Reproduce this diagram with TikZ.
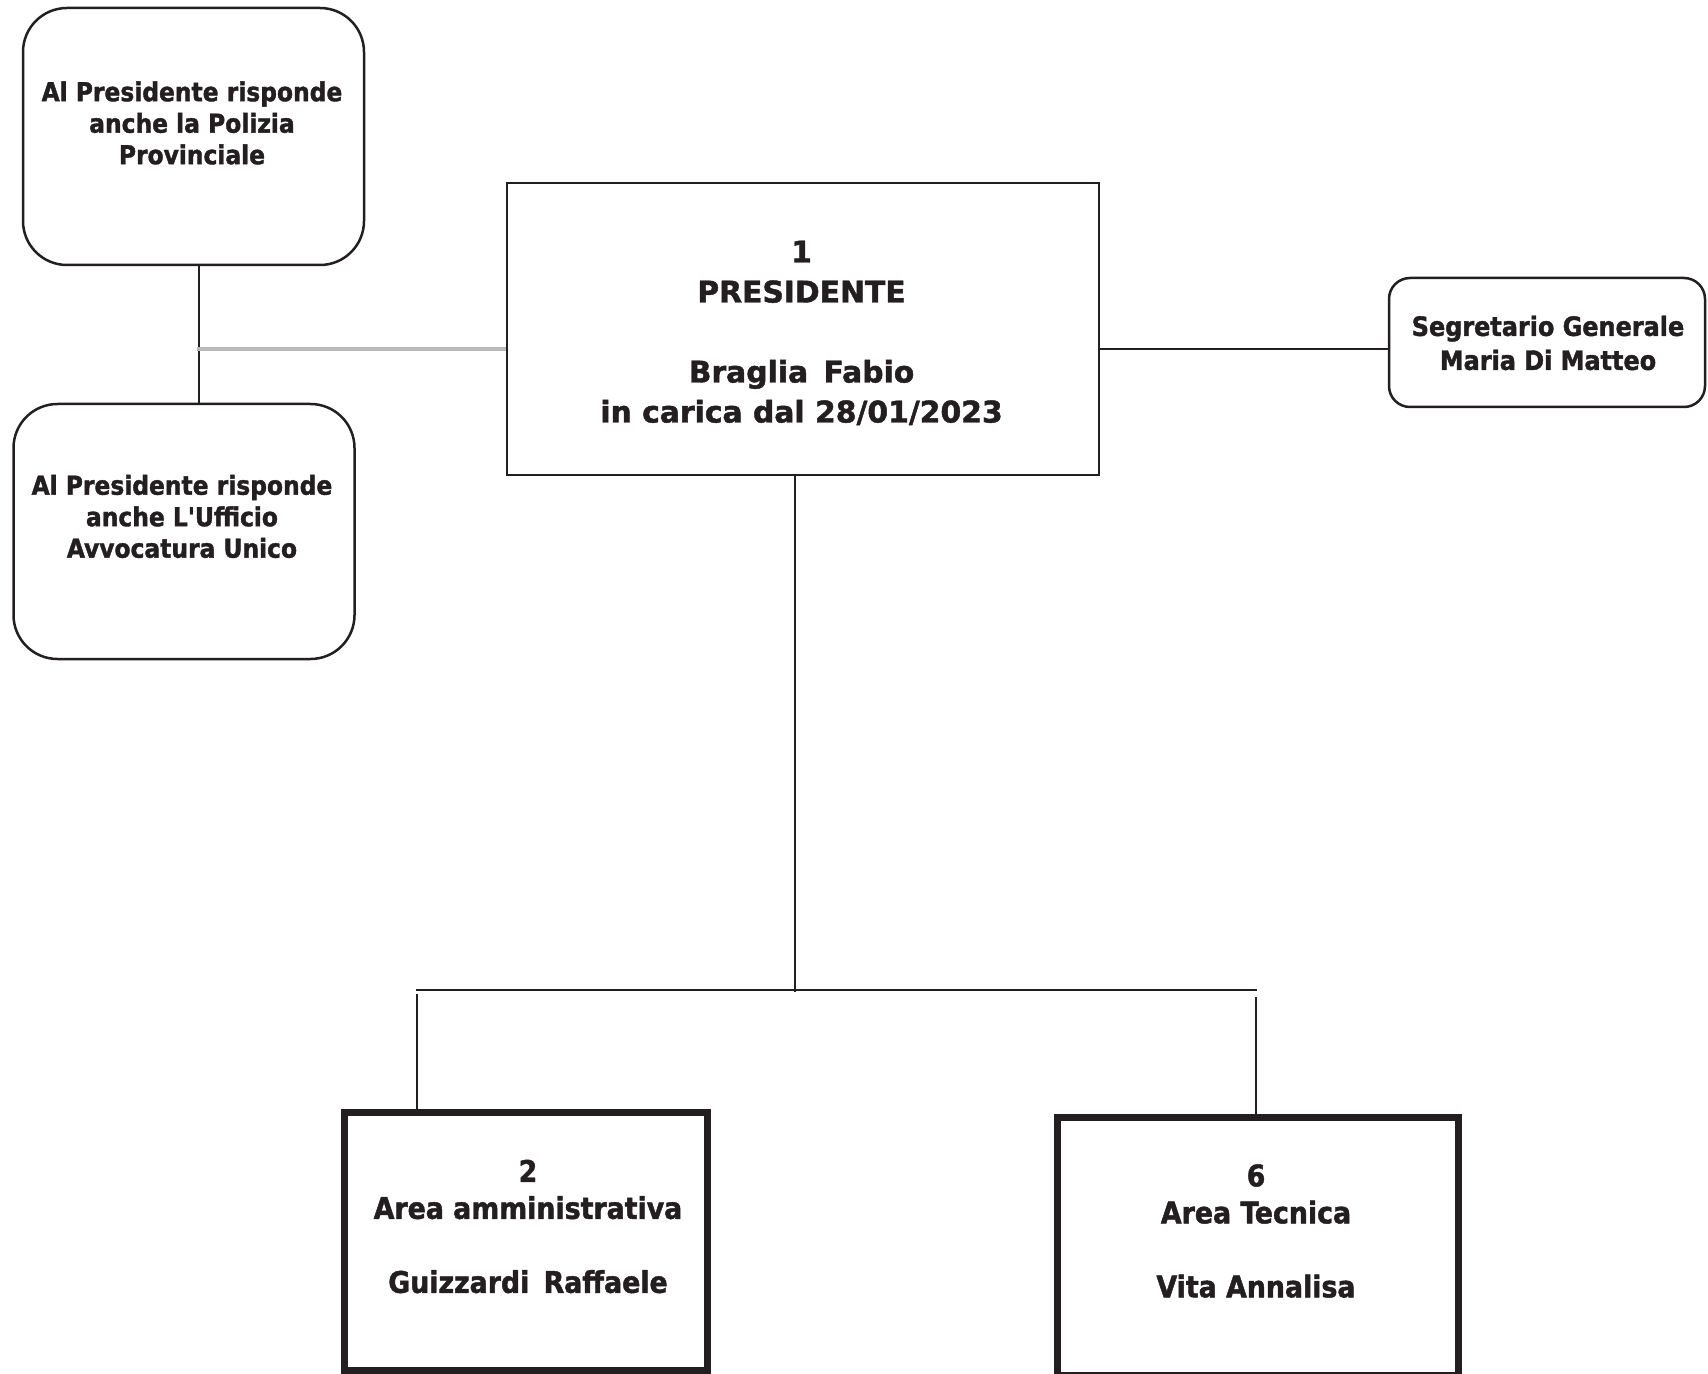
\documentclass[tikz,border=0pt]{standalone}
\usepackage{fontspec}
\setmainfont{DejaVu Sans}[BoldFeatures={FakeBold=1.5}]
\IfFontExistsTF{DejaVu Sans Condensed}
  {\newfontfamily\condfont{DejaVu Sans Condensed}[BoldFeatures={FakeBold=1.5}]}
  {\newfontfamily\condfont{DejaVu Sans}[FakeStretch=0.9, BoldFeatures={FakeBold=1.5}]}
\usepackage{tikz}
\usetikzlibrary{positioning}
\definecolor{ink}{RGB}{35,31,32}
\definecolor{rule}{RGB}{185,185,185}

\begin{document}
\begin{tikzpicture}[x=0.5pt, y=-0.5pt,
    box/.style={draw=ink, line width=1.25pt, inner sep=0pt}, % riquadri sottili
    roundbox/.style={box, rounded corners=22pt},
    areabox/.style={draw=ink, line width=3.5pt, inner sep=0pt},
    txt/.style={text=ink, align=center, inner sep=0pt},
    small/.style={txt, font=\condfont\bfseries\fontsize{13}{15.75}\selectfont},
    big/.style={txt, font=\condfont\bfseries\fontsize{14.9}{18.5}\selectfont},
    wire/.style={draw=ink, line width=1.25pt}
    ]
\useasboundingbox (0,0) rectangle (1708,1374);

% riquadri a sinistra
\node[roundbox, minimum width=170.5pt, minimum height=128.5pt] (polizia) at (193.5,136.5) {};
\node[small] (t-polizia) at (192,123) {Al Presidente risponde\\anche la Polizia\\Provinciale};
\node[roundbox, minimum width=170.5pt, minimum height=127.5pt] (avvocatura) at (184,531.5) {};
\node[small] (t-avvocatura) at (182,516.5) {Al Presidente risponde\\anche L'Ufficio\\Avvocatura Unico};

% presidente
\node[box, minimum width=296pt, minimum height=146pt] (presidente) at (803,329) {};
\node[txt, font=\bfseries\fontsize{14.9}{20}\selectfont] (t-presidente) at (801.5,333)
  {1\\PRESIDENTE\\ \\Braglia\ \,Fabio\\in carica dal 28/01/2023};

% segretario
\node[box, rounded corners=10.5pt, minimum width=158pt, minimum height=64.5pt] (segretario) at (1547,342.5) {};
\node[txt, font=\condfont\bfseries\fontsize{13.3}{17}\selectfont] (t-segretario) at (1548,343)
  {Segretario Generale\\Maria Di Matteo};

% aree
\node[areabox, minimum width=181.5pt, minimum height=128.75pt] (area2) at (526,1241.25) {};
\node[big] (t-area2) at (528,1226.5) {2\\Area amministrativa\\ \\Guizzardi\ \,Raffaele};
\node[areabox, minimum width=200.5pt, minimum height=129pt] (area6) at (1257.5,1246.5) {};
\node[big] (t-area6) at (1256,1231) {6\\Area Tecnica\\ \\Vita Annalisa};

% collegamenti
\coordinate (stem) at (199,349);
\coordinate (fork) at (795,990);
\coordinate (bus left) at (416,990);
\coordinate (bus right) at (1257,990);
\draw[wire] (polizia.south -| stem) -- (avvocatura.north -| stem);
\draw[draw=rule, line width=2pt] ([xshift=-1pt]stem) -- (presidente.west |- stem);
\draw[wire] (presidente.east |- stem) -- (segretario.west |- stem);
\draw[wire] (presidente.south -| fork) -- ([yshift=-1pt]fork);
\draw[wire] (bus left) -- (bus right);
\draw[wire] ([xshift=0.5pt, yshift=-2pt]bus left) -- (area2.north -| 417,0);
\draw[wire] ([xshift=-0.5pt, yshift=-3.5pt]bus right) -- (area6.north -| 1256,0);
\end{tikzpicture}
\end{document}
